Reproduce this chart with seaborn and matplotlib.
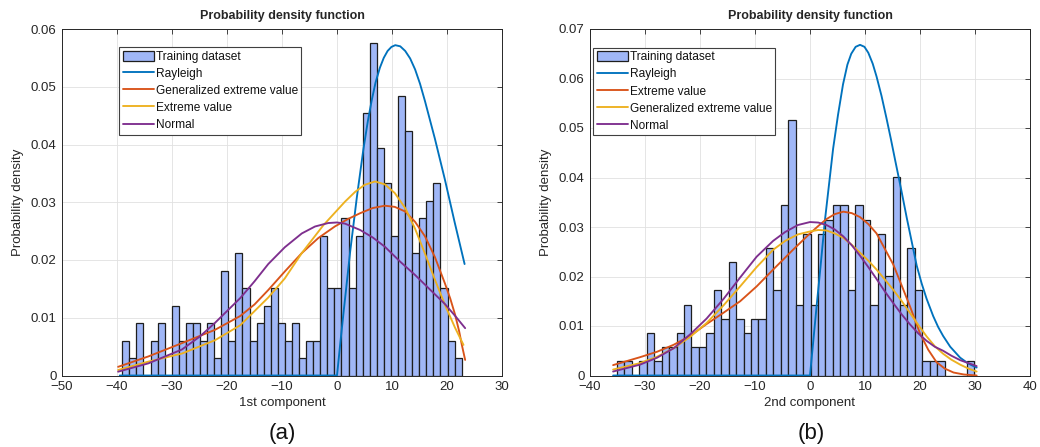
import numpy as np
import pandas as pd
import matplotlib
matplotlib.use("Agg")
import matplotlib.pyplot as plt
import seaborn as sns
from matplotlib.patches import Patch
from matplotlib.lines import Line2D

# ---------------- data ----------------
# (a) 1st component: histogram counts in 48 equal bins
left_bin_lo, left_bin_hi = -39.04, 22.67
left_counts = [2, 1, 3, 0, 2, 3, 0, 4, 2, 3, 3, 2, 3, 1, 6, 2, 7,
               5, 2, 3, 4, 5, 3, 2, 3, 1, 2, 2, 8, 5, 5, 9, 5, 8,
               15, 19, 13, 11, 8, 16, 14, 7, 9, 10, 11, 5, 2, 1]

left_ray_x = [-39.5, 0.0, 0.6, 1.2, 2.4, 3.6, 4.8, 5.6, 6.3, 7.0, 7.8, 8.5, 9.2, 9.9, 10.6, 11.5,
              12.4, 13.3, 14.2, 15.1, 16.0, 17.8, 19.6, 21.4, 23.2]
left_ray_y = [0.0, 0.0, 0.0056, 0.0110, 0.0215, 0.0308, 0.0392, 0.0440, 0.0476, 0.0507, 0.0533,
              0.0550, 0.0562, 0.0569, 0.0572, 0.0570, 0.0562, 0.0549, 0.0530, 0.0505, 0.0475,
              0.0410, 0.0340, 0.0265, 0.0193]
left_gev_x = [-39.8, -34.3, -28.2, -22.2, -17.6, -15.0, -12.5, -9.5, -6.4, -3.4, -0.4, 2.0, 4.2, 6.5,
              8.7, 10.5, 12.4, 14.2, 16.0, 17.8, 19.6, 20.6, 21.45, 22.2, 22.7, 23.0, 23.3]
left_gev_y = [0.0015, 0.0033, 0.0056, 0.0079, 0.0103, 0.0123, 0.0148, 0.0180, 0.0212, 0.0238, 0.0258,
              0.0271, 0.0281, 0.0290, 0.0294, 0.0292, 0.0284, 0.0266, 0.0241, 0.0205, 0.0160, 0.0133,
              0.0106, 0.0077, 0.0053, 0.0040, 0.0027]
left_ev_x = [-39.8, -34.3, -28.2, -22.2, -17.6, -12.5, -9.5, -6.4, -2.5, 1.45, 3.3, 5.0, 6.9, 8.7,
             10.5, 12.4, 14.2, 16.0, 17.8, 19.6, 21.45, 23.0]
left_ev_y = [0.00095, 0.0024, 0.0038, 0.0061, 0.0087, 0.0135, 0.0168, 0.0212, 0.0260, 0.0301, 0.0318,
             0.0330, 0.0336, 0.0331, 0.0316, 0.0290, 0.0254, 0.0211, 0.0166, 0.0123, 0.0083, 0.0053]
left_norm_x = [-39.8, -34.3, -28.2, -25.0, -22.2, -17.6, -15.0, -12.5, -9.5, -6.4, -4.0, -1.6, 0.0,
               1.45, 4.2, 6.5, 8.7, 11.5, 14.2, 17.0, 19.6, 21.5, 23.3]
left_norm_y = [0.00066, 0.0021, 0.0045, 0.0067, 0.0091, 0.0134, 0.0163, 0.0193, 0.0222, 0.0246,
               0.0258, 0.0264, 0.0265, 0.0263, 0.0252, 0.0239, 0.0223, 0.0197, 0.0174, 0.0148,
               0.0124, 0.0103, 0.0082]

# (b) 2nd component
right_bin_lo, right_bin_hi = -35.1, 29.9
right_counts = [1, 1, 0, 1, 3, 1, 2, 2, 3, 5,
                2, 2, 3, 6, 4, 8, 4, 3, 4, 4, 9, 6, 12, 18, 5, 10, 5,
                10, 11, 12, 12, 6, 12, 11, 5, 10, 7, 14, 5, 9, 6, 1, 1, 1, 0, 0, 0, 1]

right_ray_x = [-35.8, 0.0, 0.6, 1.2, 2.0, 2.7, 3.5, 4.2, 5.1, 6.0, 6.8, 7.5, 8.3, 9.1, 9.9, 10.6, 11.4,
               12.1, 13.0, 13.9, 14.7, 15.5, 16.5, 17.6, 18.5, 19.4, 20.3, 21.2, 22.4, 23.3, 24.2,
               25.5, 27.3, 28.8, 30.3]
right_ray_y = [0.0, 0.0, 0.0070, 0.0140, 0.0230, 0.0312, 0.0390, 0.0458, 0.0527, 0.0588, 0.0628,
               0.0650, 0.0664, 0.0668, 0.0664, 0.0652, 0.0630, 0.0604, 0.0565, 0.0520, 0.0478,
               0.0434, 0.0380, 0.0318, 0.0270, 0.0222, 0.0186, 0.0155, 0.0120, 0.0098, 0.0080,
               0.0058, 0.0036, 0.0024, 0.0016]
right_ev_x = [-35.8, -30.9, -27.8, -24.8, -21.8, -18.8, -15.7, -12.7, -9.7, -6.7, -3.0, 0.0, 1.5, 3.0,
              4.5, 6.06, 7.6, 9.1, 10.6, 12.1, 13.6, 15.15, 16.7, 18.2, 19.1, 20.0, 21.5, 23.0, 24.5,
              26.1, 28.0, 30.3]
right_ev_y = [0.0021, 0.0037, 0.0048, 0.0062, 0.0080, 0.0104, 0.0127, 0.0150, 0.0180, 0.0214, 0.0255,
              0.0287, 0.0302, 0.0316, 0.0326, 0.0331, 0.0328, 0.0320, 0.0306, 0.0287, 0.0256,
              0.0224, 0.0181, 0.0139, 0.0112, 0.0085, 0.0052, 0.0027, 0.0014, 0.0006, 0.0002, 0.0]
right_gev_x = [-35.8, -30.9, -27.8, -24.8, -21.8, -18.8, -15.7, -12.7, -9.7, -6.7, -4.5, -2.2, 0.0, 1.5,
               3.0, 4.5, 6.06, 7.6, 9.1, 10.6, 12.1, 13.6, 15.15, 16.7, 18.2, 19.7, 21.2, 22.7, 24.2,
               25.7, 27.3, 28.8, 30.3]
right_gev_y = [0.0012, 0.0025, 0.0038, 0.0055, 0.0078, 0.0106, 0.0142, 0.0180, 0.0219, 0.0254, 0.0272,
               0.0285, 0.0291, 0.0294, 0.0293, 0.0287, 0.0278, 0.0264, 0.0248, 0.0232, 0.0214,
               0.0194, 0.0173, 0.0150, 0.0126, 0.0102, 0.0079, 0.0059, 0.0044, 0.0032, 0.0022,
               0.0014, 0.0008]
right_norm_x = [-35.8, -30.9, -27.8, -24.8, -21.8, -18.8, -15.7, -12.7, -9.7, -6.7, -4.5, -2.2, 0.0,
                1.5, 3.0, 4.5, 6.06, 7.6, 9.1, 10.6, 12.1, 13.6, 15.15, 16.7, 18.2, 19.7, 21.2, 22.7,
                24.2, 25.7, 27.3, 28.8, 30.3]
right_norm_y = [0.0008, 0.0022, 0.0036, 0.0055, 0.0083, 0.0115, 0.0155, 0.0198, 0.0240, 0.0272,
                0.0290, 0.0304, 0.0310, 0.0309, 0.0304, 0.0295, 0.0281, 0.0263, 0.0242, 0.0219,
                0.0195, 0.0170, 0.0146, 0.0123, 0.0103, 0.0085, 0.0070, 0.0058, 0.0050, 0.0040,
                0.0031, 0.0025, 0.0019]

left_xticks = [-50, -40, -30, -20, -10, 0, 10, 20, 30]
left_yticks = [0, 0.01, 0.02, 0.03, 0.04, 0.05, 0.06]
right_xticks = [-40, -30, -20, -10, 0, 10, 20, 30, 40]
right_yticks = [0, 0.01, 0.02, 0.03, 0.04, 0.05, 0.06, 0.07]

left_labels = ["Training dataset", "Rayleigh", "Generalized extreme value", "Extreme value", "Normal"]
right_labels = ["Training dataset", "Rayleigh", "Extreme value", "Generalized extreme value", "Normal"]

# ---------------- style ----------------
BLUE, ORANGE, YELLOW, PURPLE = "#0072BD", "#D95319", "#EDB120", "#7E2F8E"
BAR, EDGE = "#a0b7f7", "#1e1e1e"
DARK = "#262626"

sns.set_theme(style="white")
plt.rcParams['font.family'] = ['Liberation Sans', 'DejaVu Sans']
plt.rcParams['axes.unicode_minus'] = True

W, H = 1040, 447
fig = plt.figure(figsize=(W / 100, H / 100), dpi=100)


def tick_fmt(v):
    if v == 0:
        return "0"
    s = f"{v:g}"
    return s.replace("-", "\u2212")


def panel(ax, counts, lo, hi, curves, labels, xticks, yticks, xlabel, leg_x, leg_y):
    n = len(counts)
    width = (hi - lo) / n
    centers = [lo + width * (i + 0.5) for i in range(n)]
    df = pd.DataFrame({"x": centers, "w": counts})
    sns.histplot(data=df, x="x", weights="w", bins=n, binrange=(lo, hi), stat="density",
                 color=BAR, alpha=1.0, edgecolor=EDGE, linewidth=0.9, ax=ax, zorder=2)
    for (cx, cy, col) in curves:
        sns.lineplot(x=cx, y=cy, color=col, linewidth=1.35, ax=ax, sort=False, estimator=None,
                     zorder=3)
    ax.set_xlim(xticks[0], xticks[-1])
    ax.set_ylim(yticks[0], yticks[-1])
    ax.set_xticks(xticks)
    ax.set_yticks(yticks)
    ax.set_xticklabels([tick_fmt(v) for v in xticks])
    ax.set_yticklabels([tick_fmt(v) for v in yticks])
    ax.set_axisbelow(True)
    ax.grid(True, color="#e1e1e1", linewidth=0.6)
    ax.tick_params(direction="in", top=True, right=True, length=3.5, width=0.6,
                   labelsize=9.5, colors=DARK, pad=4)
    for s in ax.spines.values():
        s.set_visible(True)
        s.set_color(DARK)
        s.set_linewidth(0.7)
    ax.set_xlabel(xlabel, fontsize=9.5, color=DARK, labelpad=3)
    ax.set_ylabel("Probability density", fontsize=9.5, color=DARK, labelpad=5)
    ax.set_title("Probability density function", fontsize=9, fontweight="bold", color=DARK, pad=7)

    handles = [Patch(facecolor=BAR, edgecolor=EDGE, linewidth=0.9)]
    handles += [Line2D([0], [0], color=c, linewidth=1.35) for (_, _, c) in curves]
    leg = ax.legend(handles, labels, loc="upper left", bbox_to_anchor=(leg_x, leg_y),
                    fontsize=8.6, frameon=True, fancybox=False, framealpha=1,
                    edgecolor="#404040", borderpad=0.3, labelspacing=0.42,
                    handlelength=2.6, handleheight=0.9, handletextpad=0.15, borderaxespad=0)
    leg.get_frame().set_linewidth(0.8)
    for t in leg.get_texts():
        t.set_color("#111111")


axL = fig.add_axes([62 / W, (H - 375.5) / H, 440 / W, 346.5 / H])
panel(axL, left_counts, left_bin_lo, left_bin_hi,
      [(left_ray_x, left_ray_y, BLUE), (left_gev_x, left_gev_y, ORANGE),
       (left_ev_x, left_ev_y, YELLOW), (left_norm_x, left_norm_y, PURPLE)],
      left_labels, left_xticks, left_yticks, "1st component", 0.13, 0.948)

axR = fig.add_axes([590 / W, (H - 375.5) / H, 440 / W, 346.5 / H])
panel(axR, right_counts, right_bin_lo, right_bin_hi,
      [(right_ray_x, right_ray_y, BLUE), (right_ev_x, right_ev_y, ORANGE),
       (right_gev_x, right_gev_y, YELLOW), (right_norm_x, right_norm_y, PURPLE)],
      right_labels, right_xticks, right_yticks, "2nd component", 0.007, 0.946)

fig.text(282 / W, 1 - 433 / H, "(a)", ha="center", va="center", fontsize=16, color="#111111")
fig.text(811 / W, 1 - 433 / H, "(b)", ha="center", va="center", fontsize=16, color="#111111")

fig.savefig("out.png", dpi=100)
